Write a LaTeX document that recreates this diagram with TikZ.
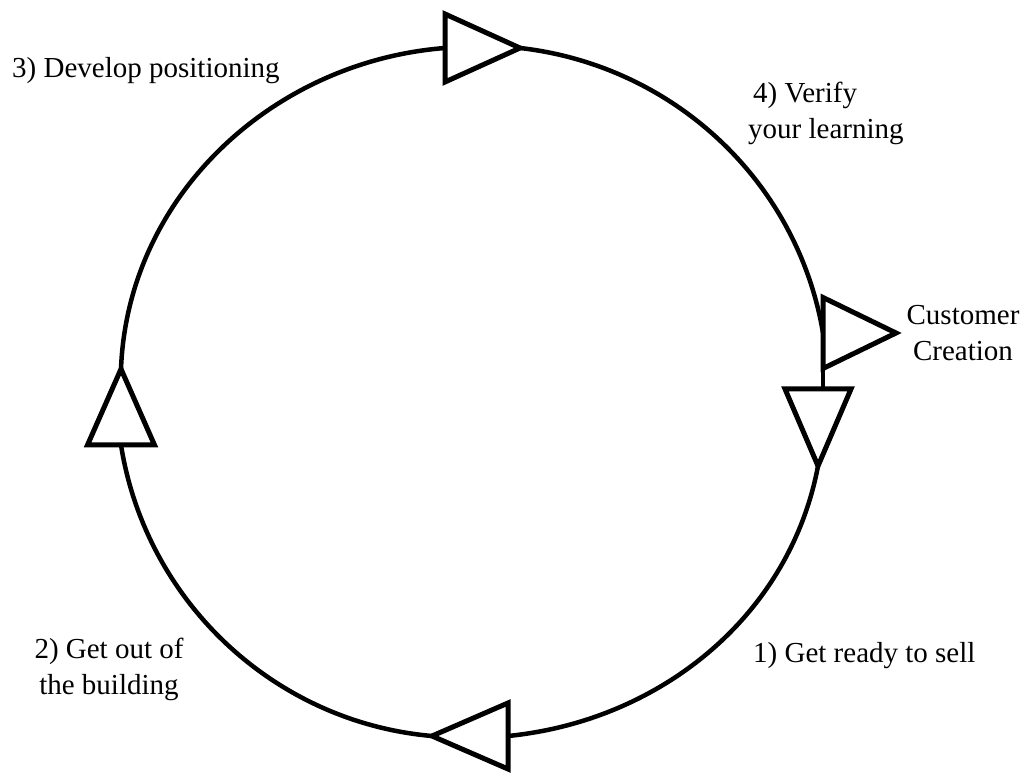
\documentclass[tikz,border=0pt]{standalone}
\usepackage{fontspec}
\setmainfont{Liberation Serif}
\usetikzlibrary{shapes.geometric}
\begin{document}
\begin{tikzpicture}[x=1pt,y=1pt,
  tri/.style={draw, line width=5pt, shape=isosceles triangle,
    isosceles triangle stretches, minimum width=#1, minimum height=75pt,
    inner sep=0pt, outer sep=0pt, anchor=lower side},
  tri/.default=68pt,
  wire/.style={line width=4.5pt},
  lbl/.style={font=\fontsize{29}{36}\selectfont, inner sep=0pt}]
\useasboundingbox (0,0) rectangle (1032,774);
% triangles
\node[tri] (top) at (445,726) {};
\node[tri=71pt, minimum height=73pt] (cust) at (823,441) {};
\node[tri=66pt, minimum height=77pt, rotate=-90] (down) at (818,385) {};
\node[tri=66pt, minimum height=76pt, rotate=180] (bot) at (508,38) {};
\node[tri=67pt, minimum height=76pt, rotate=90] (left) at (121,329) {};
% connectors
\draw[wire] (top.apex) to[out=-6.5, in=99.6, looseness=0.95] (cust.lower side);
\draw[wire] (cust.south west) -- (cust.south west |- down.lower side);
\draw[wire] (down.apex) to[out=-100.7, in=5.7, looseness=0.95] (bot.lower side);
\draw[wire] (bot.apex) to[out=175, in=-81, looseness=0.95] (left.lower side);
\draw[wire] (left.apex) to[out=87.8, in=184.5, looseness=0.97] (top.lower side);
% labels
\node[lbl, anchor=base west] (t3) at (12,696) {3) Develop positioning};
\node[lbl, anchor=north west, align=left] (t4) at (748,692) {\hspace*{5pt}4) Verify\\your learning};
\node[lbl, anchor=north, align=center] (tc) at (963,469) {Customer\\Creation};
\node[lbl, anchor=north, align=center] (t2) at (109,136) {2) Get out of\\the building};
\node[lbl, anchor=base west] (t1) at (753,112) {1) Get ready to sell};
\end{tikzpicture}
\end{document}
